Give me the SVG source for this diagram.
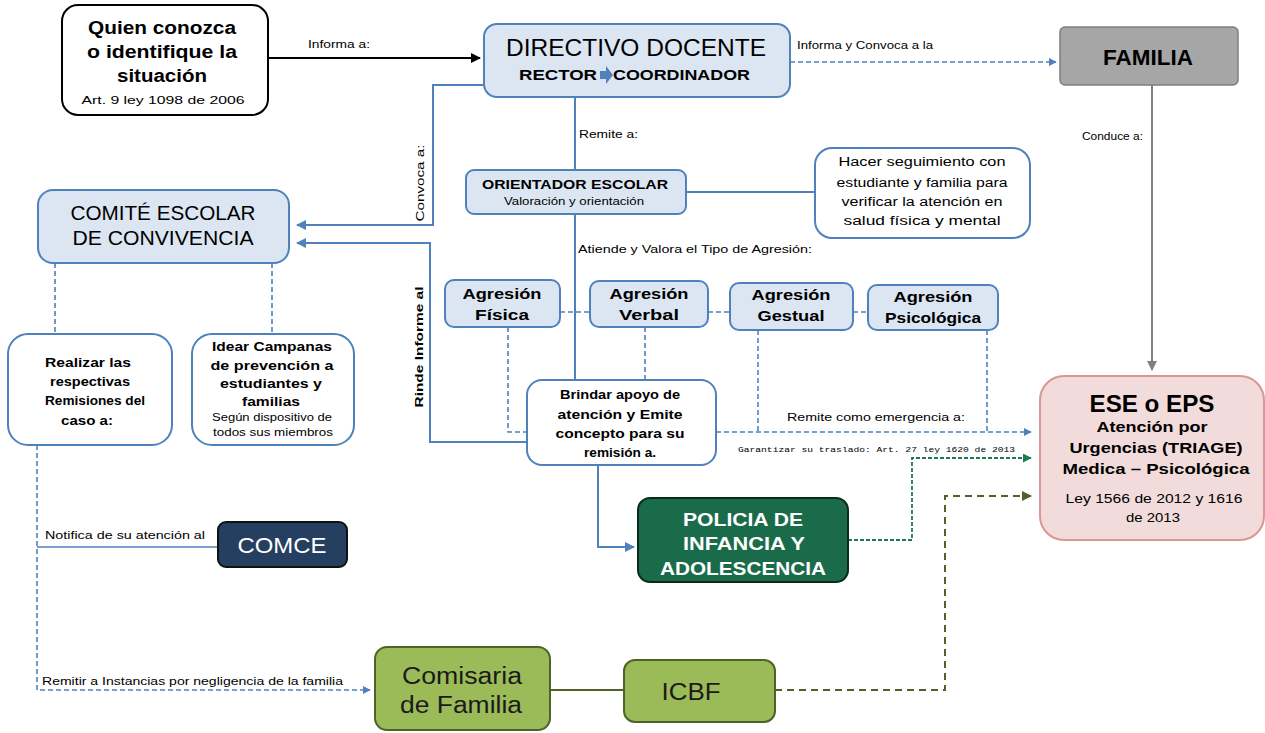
<svg xmlns="http://www.w3.org/2000/svg" width="1265" height="733" viewBox="0 0 1265 733">
<defs>
<style>
text{font-family:"Liberation Sans",Arial,sans-serif;fill:#000}
.b{font-weight:bold}
.lbl{font-size:10px}
.blue{fill:#dce6f2;stroke:#4f81bd;stroke-width:2}
.wb{fill:#fff;stroke:#4f81bd;stroke-width:2}
.ln{fill:none;stroke:#4f81bd;stroke-width:2}
.dl{fill:none;stroke:#4f81bd;stroke-width:1.6;stroke-dasharray:5 3}
.ag{font-size:15px;font-weight:bold;text-anchor:middle}
.c{text-anchor:middle}
</style>
<marker id="ab" viewBox="0 0 10 10" refX="9" refY="5" markerWidth="5" markerHeight="5" orient="auto"><path d="M0,0L10,5L0,10z" fill="#4f81bd"/></marker>
<marker id="ak" viewBox="0 0 10 10" refX="9" refY="5" markerWidth="5" markerHeight="5" orient="auto"><path d="M0,0L10,5L0,10z" fill="#000"/></marker>
<marker id="ag" viewBox="0 0 10 10" refX="9" refY="5" markerWidth="5" markerHeight="5" orient="auto"><path d="M0,0L10,5L0,10z" fill="#808080"/></marker>
<marker id="agr" viewBox="0 0 10 10" refX="9" refY="5" markerWidth="5" markerHeight="5" orient="auto"><path d="M0,0L10,5L0,10z" fill="#1e7a50"/></marker>
<marker id="aol" viewBox="0 0 10 10" refX="9" refY="5" markerWidth="5" markerHeight="5" orient="auto"><path d="M0,0L10,5L0,10z" fill="#4f6228"/></marker>
</defs>
<rect width="1265" height="733" fill="#fff"/>

<g id="connectors">
<path d="M268,58H480" fill="none" stroke="#000" stroke-width="2" marker-end="url(#ak)"/>
<text x="308" y="48" class="lbl" textLength="62" lengthAdjust="spacingAndGlyphs">Informa a:</text>
<path d="M790,62H1056" class="dl" marker-end="url(#ab)"/>
<text x="797" y="49" class="lbl" textLength="136" lengthAdjust="spacingAndGlyphs">Informa y Convoca a la</text>
<path d="M1152,85V370" fill="none" stroke="#808080" stroke-width="2" marker-end="url(#ag)"/>
<text x="1082" y="140" class="lbl" textLength="61" lengthAdjust="spacingAndGlyphs">Conduce a:</text>
<path d="M484,85H433V225H297" class="ln" marker-end="url(#ab)"/>
<text transform="translate(424,183) rotate(-90)" class="lbl c" textLength="77" lengthAdjust="spacingAndGlyphs">Convoca a:</text>
<path d="M527,442H430V243H297" class="ln" marker-end="url(#ab)"/>
<text transform="translate(423,347) rotate(-90)" class="lbl c b" textLength="121" lengthAdjust="spacingAndGlyphs">Rinde Informe al</text>
<path d="M575,97V170M575,214V380" class="ln"/>
<text x="579" y="138" class="lbl" textLength="59" lengthAdjust="spacingAndGlyphs">Remite a:</text>
<text x="578" y="253" class="lbl" textLength="234" lengthAdjust="spacingAndGlyphs">Atiende  y Valora el Tipo de Agresión:</text>
<path d="M686,192H815" class="ln"/>
<path d="M560,312H590M708,312H730M853,312H868" class="dl"/>
<path d="M508,327V432H527M645,327V380M758,330V432M987,330V432M716,432H1031" class="dl" marker-end="url(#ab)"/>
<text x="787" y="421" class="lbl" textLength="178" lengthAdjust="spacingAndGlyphs">Remite como emergencia a:</text>
<path d="M598,465V547H634" class="ln" marker-end="url(#ab)"/>
<path d="M848,540H912V458H1031" fill="none" stroke="#1e7a50" stroke-width="1.8" stroke-dasharray="4 2" marker-end="url(#agr)"/>
<text x="738" y="452" style="font-size:8px;font-family:'Liberation Mono',monospace" textLength="277" lengthAdjust="spacingAndGlyphs">Garantizar su traslado: Art. 27 ley 1620 de 2013</text>
<path d="M775,690H945V496H1031" fill="none" stroke="#4f6228" stroke-width="2" stroke-dasharray="7 5" marker-end="url(#aol)"/>
<path d="M55,263V334M272,263V334" class="dl"/>
<path d="M37,445V690H370" class="dl" marker-end="url(#ab)"/>
<path d="M37,547H218" fill="none" stroke="#4f81bd" stroke-width="1.5"/>
<text x="45" y="539" class="lbl" textLength="160" lengthAdjust="spacingAndGlyphs">Notifica de su atención al</text>
<text x="42" y="685" class="lbl" textLength="301" lengthAdjust="spacingAndGlyphs">Remitir a Instancias por negligencia de la familia</text>
<path d="M550,690H624" fill="none" stroke="#4f6228" stroke-width="2"/>
</g>

<g id="quien">
<rect x="62" y="5" width="206" height="110" rx="16" fill="#fff" stroke="#000" stroke-width="2"/>
<text x="162" y="34" class="c b" style="font-size:18px" textLength="148" lengthAdjust="spacingAndGlyphs">Quien conozca</text>
<text x="162" y="58" class="c b" style="font-size:18px" textLength="150" lengthAdjust="spacingAndGlyphs">o identifique la</text>
<text x="162" y="82" class="c b" style="font-size:18px" textLength="90" lengthAdjust="spacingAndGlyphs">situación</text>
<text x="163" y="104" class="c" style="font-size:11px" textLength="163" lengthAdjust="spacingAndGlyphs">Art. 9 ley 1098 de 2006</text>
</g>

<g id="directivo">
<rect x="484" y="24" width="306" height="73" rx="13" class="blue"/>
<text x="636" y="56" class="c" style="font-size:24px" textLength="260" lengthAdjust="spacingAndGlyphs">DIRECTIVO DOCENTE</text>
<text x="597" y="80" class="b" style="font-size:14px;text-anchor:end" textLength="78" lengthAdjust="spacingAndGlyphs">RECTOR</text>
<path d="M600,71H606V66L613,75L606,84V79H600z" fill="#4f81bd"/>
<text x="613" y="80" class="b" style="font-size:14px" textLength="137" lengthAdjust="spacingAndGlyphs">COORDINADOR</text>
</g>

<g id="familia">
<rect x="1060" y="27" width="178" height="58" rx="5" fill="#a6a6a6" stroke="#7f7f7f" stroke-width="1.5"/>
<text x="1148" y="65" class="c b" style="font-size:22px" textLength="90" lengthAdjust="spacingAndGlyphs">FAMILIA</text>
</g>

<g id="orientador">
<rect x="466" y="170" width="220" height="44" rx="8" class="blue"/>
<text x="575" y="189" class="c b" style="font-size:12px" textLength="186" lengthAdjust="spacingAndGlyphs">ORIENTADOR ESCOLAR</text>
<text x="574" y="205" class="c" style="font-size:11px" textLength="140" lengthAdjust="spacingAndGlyphs">Valoración y orientación</text>
</g>

<g id="seguimiento">
<rect x="815" y="148" width="215" height="90" rx="17" class="wb"/>
<text x="922" y="166" class="c" style="font-size:12px" textLength="167" lengthAdjust="spacingAndGlyphs">Hacer seguimiento  con</text>
<text x="922" y="187" class="c" style="font-size:12px" textLength="171" lengthAdjust="spacingAndGlyphs">estudiante  y familia para</text>
<text x="922" y="206" class="c" style="font-size:12px" textLength="161" lengthAdjust="spacingAndGlyphs">verificar  la atención  en</text>
<text x="922" y="225" class="c" style="font-size:12px" textLength="157" lengthAdjust="spacingAndGlyphs">salud  física y mental</text>
</g>

<g id="comite">
<rect x="38" y="190" width="251" height="73" rx="15" class="blue"/>
<text x="163" y="220" class="c" style="font-size:20px" textLength="185" lengthAdjust="spacingAndGlyphs">COMITÉ ESCOLAR</text>
<text x="163" y="245" class="c" style="font-size:20px" textLength="181" lengthAdjust="spacingAndGlyphs">DE CONVIVENCIA</text>
</g>

<g id="realizar">
<rect x="8" y="334" width="164" height="111" rx="20" class="wb"/>
<text x="88" y="367" class="c b" style="font-size:12px" textLength="86" lengthAdjust="spacingAndGlyphs">Realizar  las</text>
<text x="90" y="386" class="c b" style="font-size:12px" textLength="80" lengthAdjust="spacingAndGlyphs">respectivas</text>
<text x="95" y="405" class="c b" style="font-size:12px" textLength="100" lengthAdjust="spacingAndGlyphs">Remisiones del</text>
<text x="87" y="425" class="c b" style="font-size:12px" textLength="52" lengthAdjust="spacingAndGlyphs">caso  a:</text>
</g>

<g id="idear">
<rect x="192" y="334" width="162" height="111" rx="20" class="wb"/>
<text x="272" y="351" class="c b" style="font-size:12px" textLength="120" lengthAdjust="spacingAndGlyphs">Idear Campanas</text>
<text x="272" y="370" class="c b" style="font-size:12px" textLength="123" lengthAdjust="spacingAndGlyphs">de prevención  a</text>
<text x="271" y="388" class="c b" style="font-size:12px" textLength="102" lengthAdjust="spacingAndGlyphs">estudiantes y</text>
<text x="271" y="406" class="c b" style="font-size:12px" textLength="58" lengthAdjust="spacingAndGlyphs">familias</text>
<text x="272" y="421" class="c" style="font-size:10px" textLength="120" lengthAdjust="spacingAndGlyphs">Según dispositivo de</text>
<text x="273" y="436" class="c" style="font-size:10px" textLength="120" lengthAdjust="spacingAndGlyphs">todos sus miembros</text>
</g>

<g id="fisica">
<rect x="445" y="280" width="115" height="47" rx="9" class="blue"/>
<text x="502" y="299" class="ag" textLength="79" lengthAdjust="spacingAndGlyphs">Agresión</text>
<text x="502" y="320" class="ag" textLength="54" lengthAdjust="spacingAndGlyphs">Física</text>
</g>
<g id="verbal">
<rect x="590" y="281" width="118" height="46" rx="9" class="blue"/>
<text x="649" y="299" class="ag" textLength="79" lengthAdjust="spacingAndGlyphs">Agresión</text>
<text x="649" y="320" class="ag" textLength="60" lengthAdjust="spacingAndGlyphs">Verbal</text>
</g>
<g id="gestual">
<rect x="730" y="283" width="123" height="47" rx="9" class="blue"/>
<text x="791" y="300" class="ag" textLength="79" lengthAdjust="spacingAndGlyphs">Agresión</text>
<text x="791" y="321" class="ag" textLength="67" lengthAdjust="spacingAndGlyphs">Gestual</text>
</g>
<g id="psicologica">
<rect x="868" y="285" width="130" height="45" rx="9" class="blue"/>
<text x="933" y="302" class="ag" textLength="79" lengthAdjust="spacingAndGlyphs">Agresión</text>
<text x="933" y="323" class="ag" textLength="96" lengthAdjust="spacingAndGlyphs">Psicológica</text>
</g>

<g id="brindar">
<rect x="527" y="380" width="189" height="85" rx="15" class="wb"/>
<text x="620" y="399" class="c b" style="font-size:12px" textLength="120" lengthAdjust="spacingAndGlyphs">Brindar  apoyo  de</text>
<text x="620" y="419" class="c b" style="font-size:12px" textLength="125" lengthAdjust="spacingAndGlyphs">atención  y Emite</text>
<text x="620" y="438" class="c b" style="font-size:12px" textLength="129" lengthAdjust="spacingAndGlyphs">concepto  para  su</text>
<text x="620" y="457" class="c b" style="font-size:12px" textLength="72" lengthAdjust="spacingAndGlyphs">remisión  a.</text>
</g>

<g id="ese">
<rect x="1040" y="376" width="224" height="164" rx="24" fill="#f2dcdb" stroke="#d99694" stroke-width="2"/>
<text x="1152" y="412" class="c b" style="font-size:23px" textLength="125" lengthAdjust="spacingAndGlyphs">ESE o EPS</text>
<text x="1152" y="432" class="c b" style="font-size:15px" textLength="111" lengthAdjust="spacingAndGlyphs">Atención por</text>
<text x="1156" y="453" class="c b" style="font-size:15px" textLength="173" lengthAdjust="spacingAndGlyphs">Urgencias (TRIAGE)</text>
<text x="1156" y="474" class="c b" style="font-size:15px" textLength="187" lengthAdjust="spacingAndGlyphs">Medica – Psicológica</text>
<text x="1154" y="503" class="c" style="font-size:12px" textLength="177" lengthAdjust="spacingAndGlyphs">Ley 1566 de 2012 y 1616</text>
<text x="1153" y="522" class="c" style="font-size:12px" textLength="54" lengthAdjust="spacingAndGlyphs">de 2013</text>
</g>

<g id="policia">
<rect x="638" y="498" width="210" height="84" rx="12" fill="#1a6b4a" stroke="#0d2a1e" stroke-width="2"/>
<text x="743" y="526" class="c b" style="font-size:18px;fill:#fff" textLength="120" lengthAdjust="spacingAndGlyphs">POLICIA DE</text>
<text x="744" y="550" class="c b" style="font-size:18px;fill:#fff" textLength="122" lengthAdjust="spacingAndGlyphs">INFANCIA Y</text>
<text x="743" y="575" class="c b" style="font-size:18px;fill:#fff" textLength="166" lengthAdjust="spacingAndGlyphs">ADOLESCENCIA</text>
</g>

<g id="comce">
<rect x="218" y="522" width="129" height="45" rx="8" fill="#243f60" stroke="#111" stroke-width="2"/>
<text x="282" y="553" class="c" style="font-size:22px;fill:#fff" textLength="89" lengthAdjust="spacingAndGlyphs">COMCE</text>
</g>

<g id="comisaria">
<rect x="375" y="647" width="175" height="83" rx="12" fill="#9bbb59" stroke="#4f6228" stroke-width="2"/>
<text x="462" y="684" class="c" style="font-size:23px;fill:#1a1a1a" textLength="120" lengthAdjust="spacingAndGlyphs">Comisaria</text>
<text x="461" y="713" class="c" style="font-size:23px;fill:#1a1a1a" textLength="122" lengthAdjust="spacingAndGlyphs">de Familia</text>
</g>

<g id="icbf">
<rect x="624" y="660" width="151" height="62" rx="11" fill="#9bbb59" stroke="#4f6228" stroke-width="2"/>
<text x="691" y="700" class="c" style="font-size:23px;fill:#1a1a1a" textLength="59" lengthAdjust="spacingAndGlyphs">ICBF</text>
</g>
</svg>
